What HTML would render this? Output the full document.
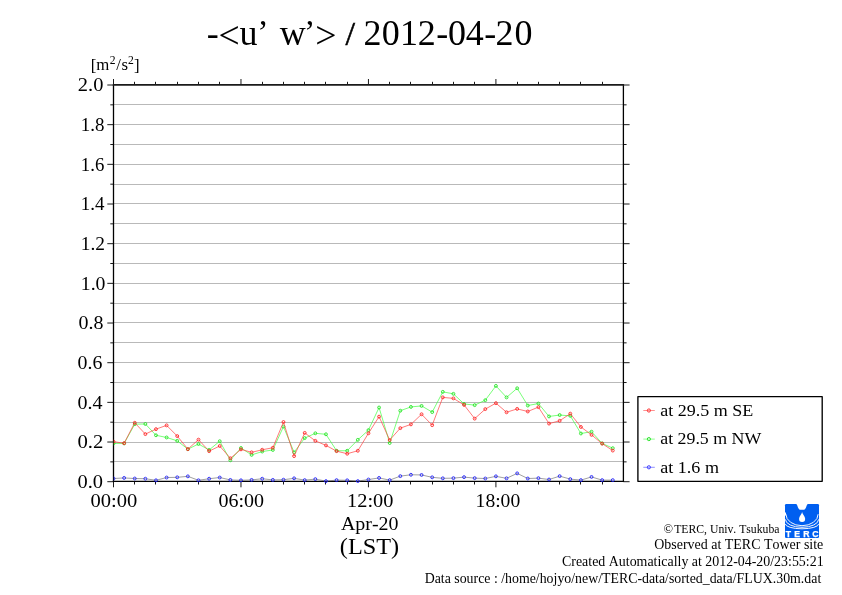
<!DOCTYPE html><html><head><meta charset="utf-8"><title>-&lt;u’ w’&gt; / 2012-04-20</title>
<style>html,body{margin:0;padding:0;background:#fff;}svg{display:block;}text{font-family:"Liberation Serif","Times New Roman",serif;fill:#000;font-kerning:none;font-variant-ligatures:none;}</style></head><body>
<svg width="842" height="595" viewBox="0 0 842 595">
<rect width="842" height="595" fill="#fff"/>
<defs><clipPath id="pc"><rect x="113.5" y="84.8" width="509.90" height="398.20"/></clipPath></defs>
<path d="M113.50 461.50H623.40M113.50 442.50H623.40M113.50 422.50H623.40M113.50 402.50H623.40M113.50 382.50H623.40M113.50 362.50H623.40M113.50 342.50H623.40M113.50 322.50H623.40M113.50 303.50H623.40M113.50 283.50H623.40M113.50 263.50H623.40M113.50 243.50H623.40M113.50 223.50H623.40M113.50 203.50H623.40M113.50 184.50H623.40M113.50 164.50H623.40M113.50 144.50H623.40M113.50 124.50H623.40M113.50 104.50H623.40" stroke="#b9b9b9" stroke-width="1" fill="none"/>
<path d="M107.30 481.70H113.50M623.40 481.70H629.60M110.30 461.87H113.50M623.40 461.87H626.60M107.30 442.03H113.50M623.40 442.03H629.60M110.30 422.19H113.50M623.40 422.19H626.60M107.30 402.36H113.50M623.40 402.36H629.60M110.30 382.52H113.50M623.40 382.52H626.60M107.30 362.69H113.50M623.40 362.69H629.60M110.30 342.85H113.50M623.40 342.85H626.60M107.30 323.02H113.50M623.40 323.02H629.60M110.30 303.19H113.50M623.40 303.19H626.60M107.30 283.35H113.50M623.40 283.35H629.60M110.30 263.51H113.50M623.40 263.51H626.60M107.30 243.68H113.50M623.40 243.68H629.60M110.30 223.84H113.50M623.40 223.84H626.60M107.30 204.01H113.50M623.40 204.01H629.60M110.30 184.18H113.50M623.40 184.18H626.60M107.30 164.34H113.50M623.40 164.34H629.60M110.30 144.50H113.50M623.40 144.50H626.60M107.30 124.67H113.50M623.40 124.67H629.60M110.30 104.84H113.50M623.40 104.84H626.60M107.30 85.00H113.50M623.40 85.00H629.60M113.50 481.50V487.30M113.50 84.80V79.00M134.50 481.50V484.50M134.50 84.80V81.80M155.50 481.50V484.50M155.50 84.80V81.80M177.50 481.50V484.50M177.50 84.80V81.80M198.50 481.50V484.50M198.50 84.80V81.80M219.50 481.50V484.50M219.50 84.80V81.80M240.97 481.50V487.30M240.97 84.80V79.00M262.50 481.50V484.50M262.50 84.80V81.80M283.50 481.50V484.50M283.50 84.80V81.80M304.50 481.50V484.50M304.50 84.80V81.80M325.50 481.50V484.50M325.50 84.80V81.80M347.50 481.50V484.50M347.50 84.80V81.80M368.45 481.50V487.30M368.45 84.80V79.00M389.50 481.50V484.50M389.50 84.80V81.80M410.50 481.50V484.50M410.50 84.80V81.80M432.50 481.50V484.50M432.50 84.80V81.80M453.50 481.50V484.50M453.50 84.80V81.80M474.50 481.50V484.50M474.50 84.80V81.80M495.92 481.50V487.30M495.92 84.80V79.00M517.50 481.50V484.50M517.50 84.80V81.80M538.50 481.50V484.50M538.50 84.80V81.80M559.50 481.50V484.50M559.50 84.80V81.80M580.50 481.50V484.50M580.50 84.80V81.80M602.50 481.50V484.50M602.50 84.80V81.80" stroke="#000" stroke-width="0.9" fill="none"/>
<path d="M113.5 84.8V481.5M623.4 84.8V481.5" stroke="#000" stroke-width="1.3" fill="none"/>
<path d="M112.8 84.9H624.1" stroke="#1a1a1a" stroke-width="1.6" fill="none"/>
<path d="M112.8 481.45H624.1" stroke="#000" stroke-width="1.3" fill="none"/>
<g clip-path="url(#pc)"><path d="M113.50 478.52 L124.12 477.93 L134.75 478.52 L145.37 478.72 L155.99 480.31 L166.61 477.53 L177.24 477.33 L187.86 476.34 L198.48 480.31 L209.11 478.72 L219.73 477.53 L230.35 479.91 L240.97 480.31 L251.60 479.91 L262.22 478.72 L272.84 479.91 L283.47 479.71 L294.09 478.33 L304.71 480.11 L315.34 479.12 L325.96 481.10 L336.58 480.11 L347.20 480.31 L357.83 481.10 L368.45 479.52 L379.07 477.93 L389.70 480.11 L400.32 476.14 L410.94 474.76 L421.56 474.95 L432.19 477.33 L442.81 478.33 L453.43 478.13 L464.06 477.14 L474.68 478.13 L485.30 478.52 L495.92 476.34 L506.55 478.33 L517.17 473.37 L527.79 478.52 L538.42 478.13 L549.04 479.52 L559.66 476.14 L570.29 479.12 L580.91 480.11 L591.53 476.94 L602.15 480.11 L612.78 480.11" stroke="#505050" stroke-width="0.55" fill="none"/>
<g stroke="#1818ff" stroke-width="0.85" fill="none"><circle cx="113.50" cy="478.52" r="1.45"/><circle cx="124.12" cy="477.93" r="1.45"/><circle cx="134.75" cy="478.52" r="1.45"/><circle cx="145.37" cy="478.72" r="1.45"/><circle cx="155.99" cy="480.31" r="1.45"/><circle cx="166.61" cy="477.53" r="1.45"/><circle cx="177.24" cy="477.33" r="1.45"/><circle cx="187.86" cy="476.34" r="1.45"/><circle cx="198.48" cy="480.31" r="1.45"/><circle cx="209.11" cy="478.72" r="1.45"/><circle cx="219.73" cy="477.53" r="1.45"/><circle cx="230.35" cy="479.91" r="1.45"/><circle cx="240.97" cy="480.31" r="1.45"/><circle cx="251.60" cy="479.91" r="1.45"/><circle cx="262.22" cy="478.72" r="1.45"/><circle cx="272.84" cy="479.91" r="1.45"/><circle cx="283.47" cy="479.71" r="1.45"/><circle cx="294.09" cy="478.33" r="1.45"/><circle cx="304.71" cy="480.11" r="1.45"/><circle cx="315.34" cy="479.12" r="1.45"/><circle cx="325.96" cy="481.10" r="1.45"/><circle cx="336.58" cy="480.11" r="1.45"/><circle cx="347.20" cy="480.31" r="1.45"/><circle cx="357.83" cy="481.10" r="1.45"/><circle cx="368.45" cy="479.52" r="1.45"/><circle cx="379.07" cy="477.93" r="1.45"/><circle cx="389.70" cy="480.11" r="1.45"/><circle cx="400.32" cy="476.14" r="1.45"/><circle cx="410.94" cy="474.76" r="1.45"/><circle cx="421.56" cy="474.95" r="1.45"/><circle cx="432.19" cy="477.33" r="1.45"/><circle cx="442.81" cy="478.33" r="1.45"/><circle cx="453.43" cy="478.13" r="1.45"/><circle cx="464.06" cy="477.14" r="1.45"/><circle cx="474.68" cy="478.13" r="1.45"/><circle cx="485.30" cy="478.52" r="1.45"/><circle cx="495.92" cy="476.34" r="1.45"/><circle cx="506.55" cy="478.33" r="1.45"/><circle cx="517.17" cy="473.37" r="1.45"/><circle cx="527.79" cy="478.52" r="1.45"/><circle cx="538.42" cy="478.13" r="1.45"/><circle cx="549.04" cy="479.52" r="1.45"/><circle cx="559.66" cy="476.14" r="1.45"/><circle cx="570.29" cy="479.12" r="1.45"/><circle cx="580.91" cy="480.11" r="1.45"/><circle cx="591.53" cy="476.94" r="1.45"/><circle cx="602.15" cy="480.11" r="1.45"/><circle cx="612.78" cy="480.11" r="1.45"/></g></g>
<g clip-path="url(#pc)"><path d="M113.50 443.42 L124.12 443.42 L134.75 424.18 L145.37 423.98 L155.99 435.28 L166.61 437.47 L177.24 440.84 L187.86 449.17 L198.48 444.01 L209.11 449.96 L219.73 441.23 L230.35 460.28 L240.97 447.98 L251.60 454.92 L262.22 451.55 L272.84 449.96 L283.47 426.56 L294.09 452.34 L304.71 438.06 L315.34 433.30 L325.96 434.29 L336.58 450.76 L347.20 450.76 L357.83 439.85 L368.45 430.13 L379.07 407.52 L389.70 443.02 L400.32 410.69 L410.94 406.92 L421.56 405.93 L432.19 412.08 L442.81 391.85 L453.43 393.83 L464.06 403.95 L474.68 405.14 L485.30 400.18 L495.92 385.90 L506.55 397.40 L517.17 388.28 L527.79 405.53 L538.42 403.55 L549.04 416.44 L559.66 415.05 L570.29 415.85 L580.91 433.50 L591.53 431.71 L602.15 443.42 L612.78 448.18" stroke="#40ff40" stroke-width="0.7" fill="none"/>
<g stroke="#20e020" stroke-width="0.85" fill="none"><circle cx="113.50" cy="443.42" r="1.45"/><circle cx="124.12" cy="443.42" r="1.45"/><circle cx="134.75" cy="424.18" r="1.45"/><circle cx="145.37" cy="423.98" r="1.45"/><circle cx="155.99" cy="435.28" r="1.45"/><circle cx="166.61" cy="437.47" r="1.45"/><circle cx="177.24" cy="440.84" r="1.45"/><circle cx="187.86" cy="449.17" r="1.45"/><circle cx="198.48" cy="444.01" r="1.45"/><circle cx="209.11" cy="449.96" r="1.45"/><circle cx="219.73" cy="441.23" r="1.45"/><circle cx="230.35" cy="460.28" r="1.45"/><circle cx="240.97" cy="447.98" r="1.45"/><circle cx="251.60" cy="454.92" r="1.45"/><circle cx="262.22" cy="451.55" r="1.45"/><circle cx="272.84" cy="449.96" r="1.45"/><circle cx="283.47" cy="426.56" r="1.45"/><circle cx="294.09" cy="452.34" r="1.45"/><circle cx="304.71" cy="438.06" r="1.45"/><circle cx="315.34" cy="433.30" r="1.45"/><circle cx="325.96" cy="434.29" r="1.45"/><circle cx="336.58" cy="450.76" r="1.45"/><circle cx="347.20" cy="450.76" r="1.45"/><circle cx="357.83" cy="439.85" r="1.45"/><circle cx="368.45" cy="430.13" r="1.45"/><circle cx="379.07" cy="407.52" r="1.45"/><circle cx="389.70" cy="443.02" r="1.45"/><circle cx="400.32" cy="410.69" r="1.45"/><circle cx="410.94" cy="406.92" r="1.45"/><circle cx="421.56" cy="405.93" r="1.45"/><circle cx="432.19" cy="412.08" r="1.45"/><circle cx="442.81" cy="391.85" r="1.45"/><circle cx="453.43" cy="393.83" r="1.45"/><circle cx="464.06" cy="403.95" r="1.45"/><circle cx="474.68" cy="405.14" r="1.45"/><circle cx="485.30" cy="400.18" r="1.45"/><circle cx="495.92" cy="385.90" r="1.45"/><circle cx="506.55" cy="397.40" r="1.45"/><circle cx="517.17" cy="388.28" r="1.45"/><circle cx="527.79" cy="405.53" r="1.45"/><circle cx="538.42" cy="403.55" r="1.45"/><circle cx="549.04" cy="416.44" r="1.45"/><circle cx="559.66" cy="415.05" r="1.45"/><circle cx="570.29" cy="415.85" r="1.45"/><circle cx="580.91" cy="433.50" r="1.45"/><circle cx="591.53" cy="431.71" r="1.45"/><circle cx="602.15" cy="443.42" r="1.45"/><circle cx="612.78" cy="448.18" r="1.45"/></g></g>
<g clip-path="url(#pc)"><path d="M113.50 441.63 L124.12 443.22 L134.75 422.79 L145.37 434.09 L155.99 429.14 L166.61 425.37 L177.24 436.08 L187.86 449.17 L198.48 439.65 L209.11 451.15 L219.73 446.00 L230.35 458.29 L240.97 449.37 L251.60 452.34 L262.22 449.76 L272.84 447.78 L283.47 422.00 L294.09 456.11 L304.71 432.90 L315.34 440.84 L325.96 445.40 L336.58 451.15 L347.20 453.73 L357.83 450.76 L368.45 433.30 L379.07 416.64 L389.70 440.04 L400.32 428.14 L410.94 424.38 L421.56 414.26 L432.19 425.17 L442.81 397.40 L453.43 398.39 L464.06 404.94 L474.68 418.62 L485.30 409.10 L495.92 403.15 L506.55 412.28 L517.17 408.90 L527.79 411.48 L538.42 407.12 L549.04 423.58 L559.66 420.80 L570.29 413.66 L580.91 426.95 L591.53 434.89 L602.15 443.62 L612.78 450.56" stroke="#ff4040" stroke-width="0.7" fill="none"/>
<g stroke="#ff2020" stroke-width="0.85" fill="none"><circle cx="113.50" cy="441.63" r="1.45"/><circle cx="124.12" cy="443.22" r="1.45"/><circle cx="134.75" cy="422.79" r="1.45"/><circle cx="145.37" cy="434.09" r="1.45"/><circle cx="155.99" cy="429.14" r="1.45"/><circle cx="166.61" cy="425.37" r="1.45"/><circle cx="177.24" cy="436.08" r="1.45"/><circle cx="187.86" cy="449.17" r="1.45"/><circle cx="198.48" cy="439.65" r="1.45"/><circle cx="209.11" cy="451.15" r="1.45"/><circle cx="219.73" cy="446.00" r="1.45"/><circle cx="230.35" cy="458.29" r="1.45"/><circle cx="240.97" cy="449.37" r="1.45"/><circle cx="251.60" cy="452.34" r="1.45"/><circle cx="262.22" cy="449.76" r="1.45"/><circle cx="272.84" cy="447.78" r="1.45"/><circle cx="283.47" cy="422.00" r="1.45"/><circle cx="294.09" cy="456.11" r="1.45"/><circle cx="304.71" cy="432.90" r="1.45"/><circle cx="315.34" cy="440.84" r="1.45"/><circle cx="325.96" cy="445.40" r="1.45"/><circle cx="336.58" cy="451.15" r="1.45"/><circle cx="347.20" cy="453.73" r="1.45"/><circle cx="357.83" cy="450.76" r="1.45"/><circle cx="368.45" cy="433.30" r="1.45"/><circle cx="379.07" cy="416.64" r="1.45"/><circle cx="389.70" cy="440.04" r="1.45"/><circle cx="400.32" cy="428.14" r="1.45"/><circle cx="410.94" cy="424.38" r="1.45"/><circle cx="421.56" cy="414.26" r="1.45"/><circle cx="432.19" cy="425.17" r="1.45"/><circle cx="442.81" cy="397.40" r="1.45"/><circle cx="453.43" cy="398.39" r="1.45"/><circle cx="464.06" cy="404.94" r="1.45"/><circle cx="474.68" cy="418.62" r="1.45"/><circle cx="485.30" cy="409.10" r="1.45"/><circle cx="495.92" cy="403.15" r="1.45"/><circle cx="506.55" cy="412.28" r="1.45"/><circle cx="517.17" cy="408.90" r="1.45"/><circle cx="527.79" cy="411.48" r="1.45"/><circle cx="538.42" cy="407.12" r="1.45"/><circle cx="549.04" cy="423.58" r="1.45"/><circle cx="559.66" cy="420.80" r="1.45"/><circle cx="570.29" cy="413.66" r="1.45"/><circle cx="580.91" cy="426.95" r="1.45"/><circle cx="591.53" cy="434.89" r="1.45"/><circle cx="602.15" cy="443.62" r="1.45"/><circle cx="612.78" cy="450.56" r="1.45"/></g></g>
<text transform="translate(77.52 488.00) scale(1.0594 1)" font-size="19.3">0.0</text>
<text transform="translate(77.51 448.33) scale(1.0750 1)" font-size="19.3">0.2</text>
<text transform="translate(77.54 408.66) scale(1.0395 1)" font-size="19.3">0.4</text>
<text transform="translate(77.54 368.99) scale(1.0300 1)" font-size="19.3">0.6</text>
<text transform="translate(78.54 329.32) scale(1.0351 1)" font-size="19.3">0.8</text>
<text transform="translate(80.76 289.65) scale(1.0233 1)" font-size="19.3">1.0</text>
<text transform="translate(80.79 249.98) scale(1.0064 1)" font-size="19.3">1.2</text>
<text transform="translate(80.83 210.31) scale(0.9852 1)" font-size="19.3">1.4</text>
<text transform="translate(80.85 170.64) scale(0.9747 1)" font-size="19.3">1.6</text>
<text transform="translate(80.83 130.97) scale(0.9819 1)" font-size="19.3">1.8</text>
<text transform="translate(77.80 91.30) scale(1.0603 1)" font-size="19.3">2.0</text>
<text transform="translate(90.42 506.70) scale(1.0661 1)" font-size="19.3">00:00</text>
<text transform="translate(218.44 506.70) scale(1.0378 1)" font-size="19.3">06:00</text>
<text transform="translate(347.11 506.70) scale(1.0546 1)" font-size="19.3">12:00</text>
<text transform="translate(475.58 506.70) scale(1.0161 1)" font-size="19.3">18:00</text>
<text transform="translate(340.91 529.90) scale(1.0849 1)" font-size="18.4">Apr-20</text>
<text transform="translate(339.83 554.00) scale(1.0649 1)" font-size="22.8">(LST)</text>
<text transform="scale(1.017 1)" y="44.7" font-size="35.4"><tspan x="203.31" y="44.7">-</tspan><tspan x="214.95" y="48.1" font-size="37">&lt;</tspan><tspan x="235.52" y="44.7">u</tspan><tspan x="252.94" y="43.5" font-size="33.3">’</tspan><tspan x="275.19" y="44.7">w</tspan><tspan x="298.95" y="43.5" font-size="33.3">’</tspan><tspan x="310.00" y="48.1" font-size="37">&gt;</tspan><tspan x="339.73" y="44.6" font-size="33.8" style="stroke:#000;stroke-width:0.5px">/</tspan><tspan x="357.54" y="44.7">2</tspan><tspan x="375.35" y="44.7">0</tspan><tspan x="393.35" y="44.7">1</tspan><tspan x="410.74" y="44.7">2</tspan><tspan x="429.07" y="44.7">-</tspan><tspan x="440.44" y="44.7">0</tspan><tspan x="458.01" y="44.7">4</tspan><tspan x="476.07" y="44.7">-</tspan><tspan x="487.33" y="44.7">2</tspan><tspan x="505.83" y="44.7">0</tspan></text>
<text><tspan x="90.80" y="70.8" font-size="16.8">[</tspan><tspan x="96.30" y="69.7" font-size="16.8">m</tspan><tspan x="109.84" y="63.5" font-size="11.6">2</tspan><tspan x="116.25" y="69.7" font-size="16.8">/</tspan><tspan x="121.46" y="69.7" font-size="16.8">s</tspan><tspan x="127.94" y="63.5" font-size="11.6">2</tspan><tspan x="133.94" y="70.8" font-size="16.8">]</tspan></text>
<rect x="637.9" y="396.65" width="184.3" height="84.65" fill="#fff" stroke="#000" stroke-width="1.35" stroke-linejoin="round"/>
<path d="M643.3 410.50H654.8" stroke="#ff6060" stroke-width="0.7"/>
<circle cx="648.9" cy="410.50" r="1.6" stroke="#ff2020" stroke-width="0.9" fill="none"/>
<text transform="translate(660.27 415.80) scale(1.0173 1)" font-size="17.7">at 29.5 m SE</text>
<path d="M643.3 439.10H654.8" stroke="#60ff60" stroke-width="0.7"/>
<circle cx="648.9" cy="439.10" r="1.6" stroke="#20e020" stroke-width="0.9" fill="none"/>
<text transform="translate(660.27 444.40) scale(1.0078 1)" font-size="17.7">at 29.5 m NW</text>
<path d="M643.3 467.30H654.8" stroke="#6060ff" stroke-width="0.7"/>
<circle cx="648.9" cy="467.30" r="1.6" stroke="#3030ff" stroke-width="0.9" fill="none"/>
<text transform="translate(660.26 472.60) scale(1.0209 1)" font-size="17.7">at 1.6 m</text>
<text x="663.5" y="533.1" font-size="12.5">©</text>
<text transform="translate(674.19 533.10) scale(0.9442 1)" font-size="12.4">TERC, Univ. Tsukuba</text>
<text transform="translate(654.23 548.90) scale(1.0198 1)" font-size="13.7">Observed at TERC Tower site</text>
<text transform="translate(562.03 566.00) scale(1.0168 1)" font-size="13.7">Created Automatically at 2012-04-20/23:55:21</text>
<text transform="translate(424.70 582.80) scale(1.0123 1)" font-size="13.7">Data source : /home/hojyo/new/TERC-data/sorted_data/FLUX.30m.dat</text>
<g transform="translate(785,504)"><rect width="34" height="34" rx="1.3" fill="#005ff0"/><path d="M11.1 0 C12.2 0.3 12.5 2.2 13.0 3.6 C13.6 5.3 14.6 5.8 16.0 5.8 H18.0 C19.4 5.8 20.4 5.3 21.0 3.6 C21.5 2.2 21.8 0.3 22.9 0 Z" fill="#fff"/><path d="M17.1 7.9 C17.4 9.8 19.6 11.8 20.1 14.2 C20.4 16.9 19.2 18.0 17.1 18.0 C15.0 18.0 13.8 16.9 14.1 14.2 C14.6 11.8 16.8 9.8 17.1 7.9Z" fill="#fff"/><path d="M0 8.4 V10.6 A17 10.6 0 0 0 34 10.6 V8.4 Z" fill="none"/><path d="M0.9 10.2 A16.1 11.5 0 0 0 33.1 10.2" stroke="#fff" stroke-width="0.95" fill="none"/><path d="M0.4 15.4 A16.6 7.9 0 0 0 33.6 15.4" stroke="#fff" stroke-width="0.95" fill="none"/><path d="M0.3 19.9 A16.7 4.9 0 0 0 33.7 19.9" stroke="#fff" stroke-width="0.95" fill="none"/><path d="M0 8.6 H1.0 V11.5 H0 Z" fill="#fff"/><text y="32.8" font-size="8.7" style="fill:#fff;stroke:#fff;stroke-width:0.25px;font-family:'Liberation Sans',sans-serif;font-weight:bold"><tspan x="0.7">T</tspan><tspan x="9.3">E</tspan><tspan x="18.2">R</tspan><tspan x="27.3">C</tspan></text></g>
</svg></body></html>
